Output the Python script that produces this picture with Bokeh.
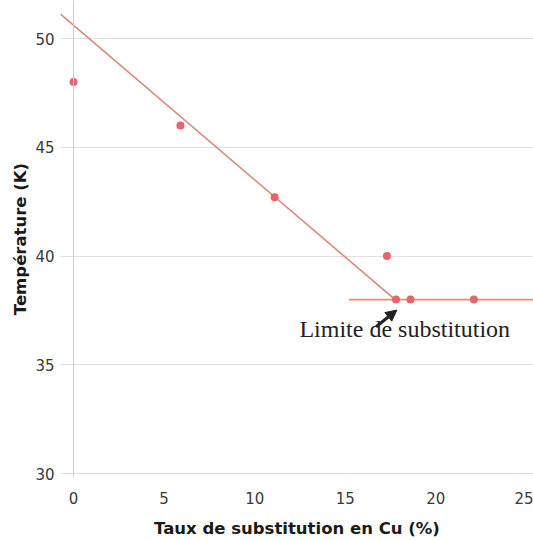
from bokeh.plotting import figure
from bokeh.models import Range1d, FixedTicker, Span, Label, Arrow, NormalHead
from bokeh.embed import file_html
from bokeh.resources import INLINE

# data
cu_rate = [0.0, 5.9, 11.1, 17.3, 17.8, 18.6, 22.1]          # % Cu
temperature = [48.0, 46.0, 42.7, 40.0, 38.0, 38.0, 38.0]   # K

# hand-drawn trend lines
slope_x = [-0.72, 17.75]
slope_y = [51.12, 38.0]
plateau_x = [15.2, 25.4]
plateau_y = [38.0, 38.0]

x_ticks = [0, 5, 10, 15, 20, 25]
y_ticks = [30, 35, 40, 45, 50]

annotation_text = "Limite de substitution"
arrow_start = (16.7, 36.75)
arrow_end = (17.85, 37.52)
label_pos = (12.47, 36.66)

p = figure(width=533, height=540, output_backend="svg", toolbar_location=None,
           x_range=Range1d(-0.72, 25.39), y_range=Range1d(29.82, 51.75),
           min_border_top=0, min_border_right=0, min_border_left=60,
           background_fill_color="white", border_fill_color="white")
p.outline_line_color = None

p.xgrid.grid_line_color = None
p.ygrid.grid_line_color = "#e0e0e0"
p.ygrid.grid_line_width = 1

for ax in (p.xaxis[0], p.yaxis[0]):
    ax.axis_line_color = None
    ax.major_tick_line_color = None
    ax.minor_tick_line_color = None
    ax.major_label_text_font = "DejaVu Sans"
    ax.major_label_text_font_size = "15px"
    ax.major_label_text_color = "#3a3a3a"
    ax.axis_label_text_font = "DejaVu Sans"
    ax.axis_label_text_font_size = "16.5px"
    ax.axis_label_text_font_style = "bold"
    ax.axis_label_text_color = "#1a1a1a"

p.xaxis.ticker = FixedTicker(ticks=x_ticks)
p.yaxis.ticker = FixedTicker(ticks=y_ticks)
p.xaxis.axis_label = "Taux de substitution en Cu (%)"
p.yaxis.axis_label = "Température (K)"
p.xaxis.major_label_standoff = 8
p.xaxis.axis_label_standoff = 12
p.yaxis.major_label_standoff = 0
p.yaxis.axis_label_standoff = 2

# y axis line at x = 0
p.add_layout(Span(location=0, dimension="height", line_color="#d0d0d0", line_width=1))

p.line(slope_x, slope_y, line_color="#d9897c", line_width=1.6)
p.line(plateau_x, plateau_y, line_color="#ef8a6e", line_width=1.6)
p.scatter(cu_rate, temperature, size=8, fill_color="#e8636c", line_color=None)

p.add_layout(Arrow(end=NormalHead(size=11, fill_color="#222222", line_color="#222222"),
                   x_start=arrow_start[0], y_start=arrow_start[1],
                   x_end=arrow_end[0], y_end=arrow_end[1],
                   line_color="#222222", line_width=3))
p.add_layout(Label(x=label_pos[0], y=label_pos[1], text=annotation_text,
                   text_font="Liberation Serif", text_font_size="24px",
                   text_color="#222222", text_baseline="alphabetic"))

open("out.html", "w").write(file_html(p, INLINE))
